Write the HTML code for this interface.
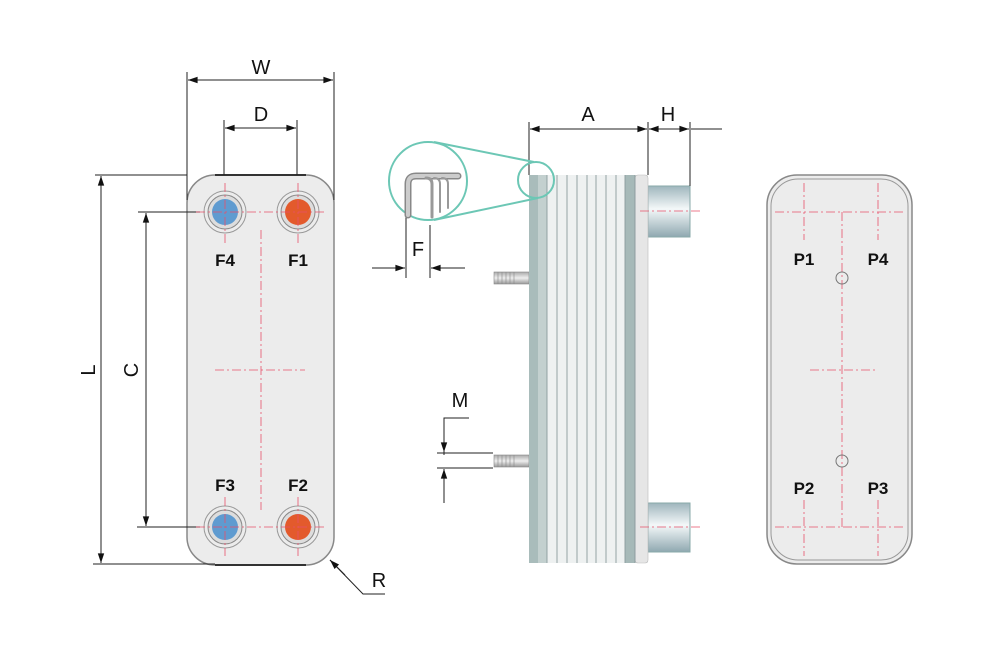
<!DOCTYPE html>
<html><head><meta charset="utf-8"><style>html,body{margin:0;padding:0;background:#fff}svg{display:block}text{font-family:"Liberation Sans",Arial,sans-serif;fill:#111}.p{font-weight:bold;font-size:17px}</style></head>
<body>
<svg width="1000" height="665" viewBox="0 0 1000 665" xmlns="http://www.w3.org/2000/svg">
<defs>
<marker id="ar" viewBox="0 0 12 10" refX="12" refY="5" markerWidth="13" markerHeight="8" orient="auto-start-reverse" markerUnits="userSpaceOnUse"><path d="M0,1 L12,5 L0,9 Z" fill="#111"/></marker>
<linearGradient id="pipe" x1="0" y1="0" x2="0" y2="1"><stop offset="0" stop-color="#9fb6bd"/><stop offset="0.45" stop-color="#f4f8f9"/><stop offset="1" stop-color="#8fa8b0"/></linearGradient>
<linearGradient id="stud" x1="0" y1="0" x2="0" y2="1"><stop offset="0" stop-color="#aaa"/><stop offset="0.5" stop-color="#eee"/><stop offset="1" stop-color="#999"/></linearGradient>
</defs>
<g stroke="#222" stroke-width="1" fill="none">
<rect x="187" y="175" width="147" height="390" rx="28" fill="#ececec" stroke="#888" stroke-width="1.5"/>
<line x1="215" y1="175" x2="306" y2="175" stroke="#333" stroke-width="2"/>
<line x1="215" y1="565" x2="306" y2="565" stroke="#333" stroke-width="2"/>
<line x1="187" y1="72" x2="187" y2="200"/><line x1="334" y1="72" x2="334" y2="200"/>
<line x1="188" y1="80" x2="333" y2="80" marker-start="url(#ar)" marker-end="url(#ar)"/>
<line x1="224" y1="120" x2="224" y2="175"/><line x1="297" y1="120" x2="297" y2="175"/>
<line x1="225" y1="128" x2="296" y2="128" marker-start="url(#ar)" marker-end="url(#ar)"/>
<line x1="95" y1="175" x2="187" y2="175"/><line x1="93" y1="564" x2="215" y2="564"/>
<line x1="101" y1="176" x2="101" y2="563" marker-start="url(#ar)" marker-end="url(#ar)"/>
<line x1="138" y1="212" x2="200" y2="212"/><line x1="137" y1="527" x2="200" y2="527"/>
<line x1="146" y1="213" x2="146" y2="526" marker-start="url(#ar)" marker-end="url(#ar)"/>
<polyline points="385,594 363,594 330,560"/>
<line x1="345" y1="575" x2="330" y2="560" marker-end="url(#ar)"/>
</g>
<g>
<g transform="translate(225,212)"><circle r="21" fill="none" stroke="#999"/><circle r="17" fill="#ddd" stroke="#888"/><circle r="13" fill="#5f9bd0"/></g>
<g transform="translate(298,212)"><circle r="21" fill="none" stroke="#999"/><circle r="17" fill="#ddd" stroke="#888"/><circle r="13" fill="#e35a2c"/></g>
<g transform="translate(225,527)"><circle r="21" fill="none" stroke="#999"/><circle r="17" fill="#ddd" stroke="#888"/><circle r="13" fill="#5f9bd0"/></g>
<g transform="translate(298,527)"><circle r="21" fill="none" stroke="#999"/><circle r="17" fill="#ddd" stroke="#888"/><circle r="13" fill="#e35a2c"/></g>
</g>
<g stroke="#e8506a" stroke-width="0.8" stroke-dasharray="9,3,2,3" fill="none">
<line x1="196" y1="212" x2="327" y2="212"/><line x1="196" y1="527" x2="327" y2="527"/>
<line x1="225" y1="183" x2="225" y2="243"/><line x1="298" y1="183" x2="298" y2="243"/>
<line x1="225" y1="497" x2="225" y2="556"/><line x1="298" y1="497" x2="298" y2="556"/>
<line x1="261" y1="230" x2="261" y2="510"/><line x1="215" y1="370" x2="305" y2="370"/>
</g>
<text x="261" y="74" font-size="20" text-anchor="middle">W</text>
<text x="261" y="121" font-size="20" text-anchor="middle">D</text>
<text x="88" y="377" font-size="20" text-anchor="middle" transform="rotate(-90 88 370)">L</text>
<text x="131" y="377" font-size="20" text-anchor="middle" transform="rotate(-90 131 370)">C</text>
<text x="379" y="587" font-size="20" text-anchor="middle">R</text>
<text x="225" y="266" class="p" text-anchor="middle">F4</text>
<text x="298" y="266" class="p" text-anchor="middle">F1</text>
<text x="225" y="491" class="p" text-anchor="middle">F3</text>
<text x="298" y="491" class="p" text-anchor="middle">F2</text>

<rect x="648" y="186" width="42" height="51" fill="url(#pipe)" stroke="#8aa"/>
<rect x="648" y="503" width="42" height="49" fill="url(#pipe)" stroke="#8aa"/>
<rect x="494" y="272" width="35" height="12" fill="url(#stud)" stroke="#888" stroke-width="0.6"/>
<rect x="494" y="455" width="35" height="12" fill="url(#stud)" stroke="#888" stroke-width="0.6"/>
<g stroke="#888" stroke-width="0.6"><line x1="498" y1="272" x2="498" y2="284"/><line x1="502" y1="272" x2="502" y2="284"/><line x1="506" y1="272" x2="506" y2="284"/><line x1="510" y1="272" x2="510" y2="284"/><line x1="514" y1="272" x2="514" y2="284"/><line x1="498" y1="455" x2="498" y2="467"/><line x1="502" y1="455" x2="502" y2="467"/><line x1="506" y1="455" x2="506" y2="467"/><line x1="510" y1="455" x2="510" y2="467"/><line x1="514" y1="455" x2="514" y2="467"/></g>
<rect x="529" y="175" width="119" height="388" fill="#eef1f1"/>
<rect x="529" y="175" width="9" height="388" fill="#a9bcbb"/>
<rect x="538" y="175" width="9" height="388" fill="#c3d0cf"/>
<rect x="625" y="175" width="10" height="388" fill="#a6b9b8"/>
<rect x="635" y="175" width="13" height="388" rx="3" fill="#e6e6e6" stroke="#bbb" stroke-width="0.6"/>
<g stroke="#8a9a9c" stroke-width="0.9">
<line x1="547" y1="175" x2="547" y2="563"/><line x1="557" y1="175" x2="557" y2="563"/>
<line x1="567" y1="175" x2="567" y2="563"/><line x1="577" y1="175" x2="577" y2="563"/>
<line x1="587" y1="175" x2="587" y2="563"/><line x1="596" y1="175" x2="596" y2="563"/>
<line x1="606" y1="175" x2="606" y2="563"/><line x1="616" y1="175" x2="616" y2="563"/>
<line x1="625" y1="175" x2="625" y2="563"/><line x1="635" y1="175" x2="635" y2="563"/>
</g>
<g stroke="#e8506a" stroke-width="0.8" stroke-dasharray="9,3,2,3"><line x1="640" y1="211" x2="702" y2="211"/><line x1="640" y1="527" x2="702" y2="527"/></g>
<g stroke="#222" fill="none">
<line x1="529" y1="122" x2="529" y2="175"/><line x1="648" y1="122" x2="648" y2="175"/>
<line x1="690" y1="122" x2="690" y2="186"/>
<line x1="530" y1="129" x2="647" y2="129" marker-start="url(#ar)" marker-end="url(#ar)"/>
<line x1="649" y1="129" x2="689" y2="129" marker-start="url(#ar)" marker-end="url(#ar)"/>
<line x1="691" y1="129" x2="722" y2="129"/>
<polyline points="469,418 444,418 444,455"/>
<line x1="437" y1="453" x2="493" y2="453"/><line x1="437" y1="468" x2="493" y2="468"/>
<line x1="444" y1="430" x2="444" y2="452" marker-end="url(#ar)"/>
<line x1="444" y1="503" x2="444" y2="469" marker-end="url(#ar)"/>
<line x1="406" y1="205" x2="406" y2="278"/><line x1="430" y1="225" x2="430" y2="278"/>
<line x1="372" y1="268" x2="405" y2="268" marker-end="url(#ar)"/>
<line x1="465" y1="268" x2="431" y2="268" marker-end="url(#ar)"/>
</g>
<g stroke="#6cc7b5" stroke-width="2" fill="none">
<circle cx="428" cy="181" r="39" fill="#fff"/>
<circle cx="536" cy="180" r="18"/>
<line x1="434" y1="142" x2="534" y2="162"/><line x1="434" y1="220" x2="538" y2="198"/>
</g>
<g fill="none" stroke-linecap="round">
<path d="M408,215 L408,184 Q408,176 416,176 L458,176" stroke="#888" stroke-width="7"/>
<path d="M408,215 L408,184 Q408,176 416,176 L458,176" stroke="#ccc" stroke-width="4"/>
<path d="M432,217 L432,184 Q432,178 426,178" stroke="#999" stroke-width="3"/>
<path d="M440,212 L440,184 Q440,178 434,178" stroke="#999" stroke-width="2"/>
<path d="M448,208 L448,184 Q448,178 442,178" stroke="#999" stroke-width="2"/>
</g>
<text x="588" y="121" font-size="20" text-anchor="middle">A</text>
<text x="668" y="121" font-size="20" text-anchor="middle">H</text>
<text x="460" y="407" font-size="20" text-anchor="middle">M</text>
<text x="418" y="256" font-size="20" text-anchor="middle">F</text>

<rect x="767" y="175" width="145" height="389" rx="30" fill="#ececec" stroke="#888" stroke-width="1.5"/>
<rect x="771" y="179" width="137" height="381" rx="27" fill="none" stroke="#999" stroke-width="1"/>
<g stroke="#e8506a" stroke-width="0.8" stroke-dasharray="9,3,2,3" fill="none">
<line x1="775" y1="212" x2="905" y2="212"/><line x1="775" y1="527" x2="905" y2="527"/>
<line x1="804" y1="183" x2="804" y2="240"/><line x1="878" y1="183" x2="878" y2="240"/>
<line x1="804" y1="500" x2="804" y2="556"/><line x1="878" y1="500" x2="878" y2="556"/>
<line x1="842" y1="212" x2="842" y2="527"/><line x1="810" y1="370" x2="875" y2="370"/>
</g>
<g fill="none" stroke="#777"><circle cx="842" cy="278" r="6"/><circle cx="842" cy="461" r="6"/></g>
<text x="804" y="265" class="p" text-anchor="middle">P1</text>
<text x="878" y="265" class="p" text-anchor="middle">P4</text>
<text x="804" y="494" class="p" text-anchor="middle">P2</text>
<text x="878" y="494" class="p" text-anchor="middle">P3</text>
</svg>
</body></html>
